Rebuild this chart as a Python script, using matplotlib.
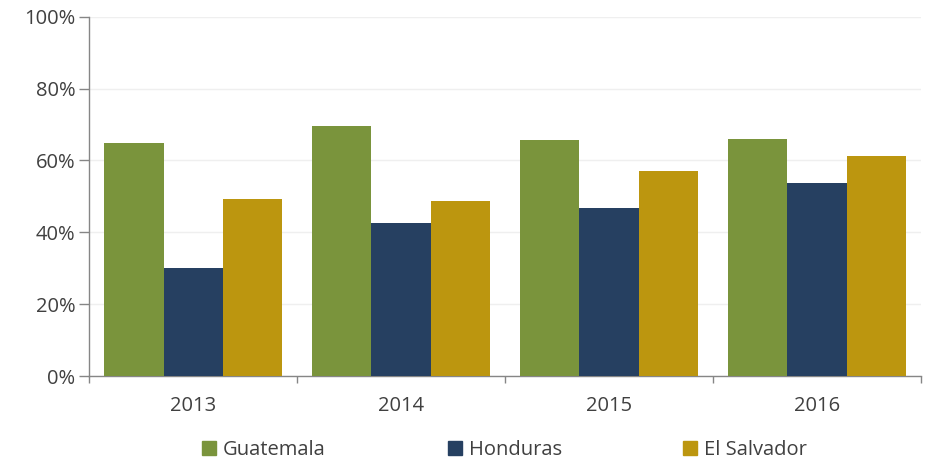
import numpy as np
import matplotlib.pyplot as plt
from matplotlib.patches import Patch
from matplotlib.ticker import FuncFormatter

plt.rcParams['font.family'] = ['Open Sans', 'DejaVu Sans']

years = ['2013', '2014', '2015', '2016']
guatemala = [64.9, 69.7, 65.8, 66.0]
honduras = [30.1, 42.6, 46.7, 53.8]
el_salvador = [49.3, 48.7, 57.0, 61.2]

series = [('Guatemala', guatemala, '#7A943C'),
          ('Honduras', honduras, '#264061'),
          ('El Salvador', el_salvador, '#BC960F')]

text_col = '#404040'
axis_col = '#868686'

fig = plt.figure(figsize=(9.29, 4.62), dpi=100)
ax = fig.add_axes([0.0961, 0.186, 0.8953, 0.778])

x = np.arange(len(years))
w = 0.286
for i, (name, vals, col) in enumerate(series):
    ax.bar(x + (i - 1) * w, vals, width=w, color=col, label=name, zorder=3)

ax.set_xlim(-0.5, len(years) - 0.5)
ax.set_ylim(0, 100)
ax.set_yticks(np.arange(0, 101, 20))
ax.yaxis.set_major_formatter(FuncFormatter(lambda v, p: f'{v:.0f}%'))
ax.grid(axis='y', color='#EFEFEF', linewidth=1, zorder=0)

ax.set_xticks(x)
ax.set_xticklabels(years)
ax.set_xticks(np.arange(-0.5, len(years)), minor=True)
ax.tick_params(axis='x', which='major', length=0, pad=14, labelsize=14.5, labelcolor=text_col)
ax.tick_params(axis='x', which='minor', length=5, color=axis_col, width=1)
ax.tick_params(axis='y', length=7, color=axis_col, width=1, labelsize=14.5, labelcolor=text_col, pad=3)

for s in ['top', 'right']:
    ax.spines[s].set_visible(False)
for s in ['left', 'bottom']:
    ax.spines[s].set_color(axis_col)
    ax.spines[s].set_linewidth(1)

# legend entries spaced evenly like the original
for (name, vals, col), lx in zip(series, [0.217, 0.482, 0.735]):
    fig.legend(handles=[Patch(color=col)], labels=[name], loc='center left',
               bbox_to_anchor=(lx, 0.025), frameon=False, fontsize=14.5,
               handlelength=0.7, handleheight=0.7, handletextpad=0.35,
               labelcolor=text_col, borderaxespad=0, borderpad=0)

fig.savefig('out.png', dpi=100)
